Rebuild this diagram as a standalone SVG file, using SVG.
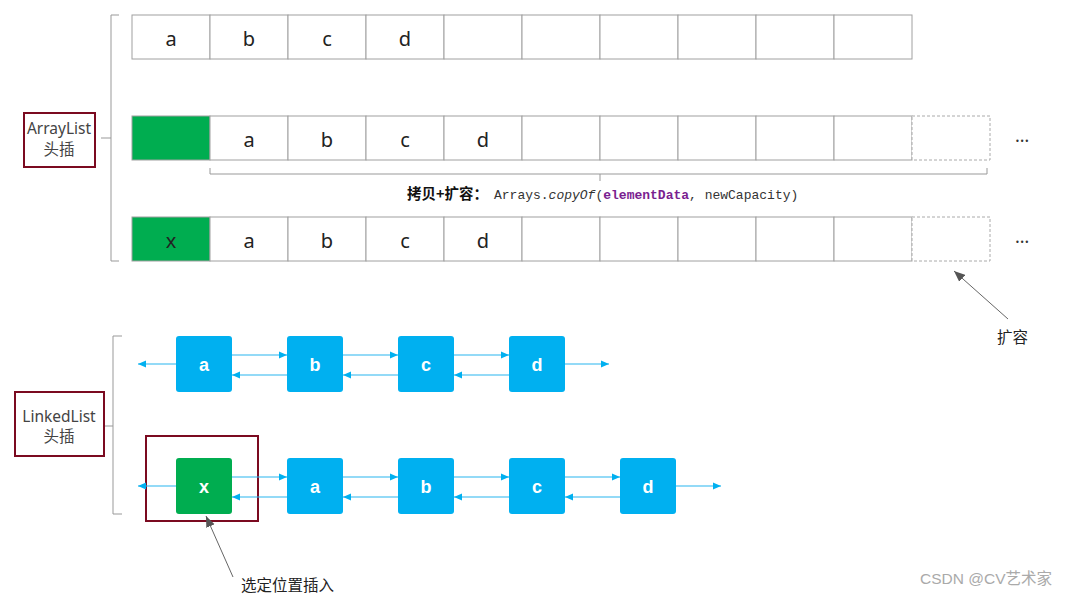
<svg xmlns="http://www.w3.org/2000/svg" width="1069" height="596" viewBox="0 0 1069 596">
<defs>
<style>
.cell{fill:#fff;stroke:#a0a0a0;stroke-width:1}
.green{fill:#00ad50;stroke:#a0a0a0;stroke-width:1}
.dash{fill:#fff;stroke:#aaa;stroke-width:1;stroke-dasharray:3,2}
.ct{font-family:"Noto Sans","Open Sans",sans-serif;font-size:20px;fill:#222;text-anchor:middle}
.lbl{font-family:"Noto Sans","Noto Sans CJK SC",sans-serif;font-size:15.5px;fill:#444;text-anchor:middle}
.redbox{fill:none;stroke:#7b0a20;stroke-width:2}
.brace{fill:none;stroke:#999;stroke-width:1}
.node{fill:#00b0f0}
.gnode{fill:#00ad50}
.nt{font-family:"Liberation Sans",Arial,sans-serif;font-weight:bold;font-size:18px;fill:#fff;text-anchor:middle}
.ln{stroke:#29b6ef;stroke-width:1.2;fill:none;marker-end:url(#ab)}
.gl{stroke:#666;stroke-width:1;fill:none;marker-end:url(#ag)}
.dots{font-family:"Noto Sans",sans-serif;font-size:18px;fill:#333}
.cn{font-family:"Noto Sans CJK SC",sans-serif;font-size:15.5px;fill:#222}
</style>
<marker id="ab" markerUnits="userSpaceOnUse" markerWidth="9" markerHeight="8" refX="8" refY="4" orient="auto"><path d="M0,0.5 L8,4 L0,7.5 z" fill="#00b0f0"/></marker>
<marker id="ag" markerUnits="userSpaceOnUse" markerWidth="12" markerHeight="10" refX="11" refY="5" orient="auto"><path d="M0,0.5 L11,5 L0,9.5 z" fill="#555"/></marker>
</defs>
<rect width="1069" height="596" fill="#fff"/>

<g id="arraylist-brace">
<path class="brace" d="M119,15 H111 V261 H119 M111,138 H101"/>
</g>
<g id="arraylist-label">
<rect class="redbox" x="24" y="113" width="71" height="54"/>
<text class="lbl" x="59" y="134">ArrayList</text>
<text class="lbl" x="59" y="155">头插</text>
</g>

<g id="array-row1">
<rect class="cell" x="132" y="15" width="78" height="44"/>
<rect class="cell" x="210" y="15" width="78" height="44"/>
<rect class="cell" x="288" y="15" width="78" height="44"/>
<rect class="cell" x="366" y="15" width="78" height="44"/>
<rect class="cell" x="444" y="15" width="78" height="44"/>
<rect class="cell" x="522" y="15" width="78" height="44"/>
<rect class="cell" x="600" y="15" width="78" height="44"/>
<rect class="cell" x="678" y="15" width="78" height="44"/>
<rect class="cell" x="756" y="15" width="78" height="44"/>
<rect class="cell" x="834" y="15" width="78" height="44"/>
<text class="ct" x="171" y="46">a</text>
<text class="ct" x="249" y="46">b</text>
<text class="ct" x="327" y="46">c</text>
<text class="ct" x="405" y="46">d</text>
</g>

<g id="array-row2">
<rect class="green" x="132" y="116" width="78" height="44"/>
<rect class="cell" x="210" y="116" width="78" height="44"/>
<rect class="cell" x="288" y="116" width="78" height="44"/>
<rect class="cell" x="366" y="116" width="78" height="44"/>
<rect class="cell" x="444" y="116" width="78" height="44"/>
<rect class="cell" x="522" y="116" width="78" height="44"/>
<rect class="cell" x="600" y="116" width="78" height="44"/>
<rect class="cell" x="678" y="116" width="78" height="44"/>
<rect class="cell" x="756" y="116" width="78" height="44"/>
<rect class="cell" x="834" y="116" width="78" height="44"/>
<rect class="dash" x="912" y="116" width="78" height="44"/>
<text class="ct" x="249" y="147">a</text>
<text class="ct" x="327" y="147">b</text>
<text class="ct" x="405" y="147">c</text>
<text class="ct" x="483" y="147">d</text>
<text class="dots" x="1015" y="142">…</text>
</g>

<g id="copy-bracket">
<path class="brace" d="M210,168 V174 H987 V168 M600,174 V181"/>
<text y="199" font-size="13" fill="#333"><tspan x="407" font-family="'Noto Sans CJK SC',sans-serif" font-weight="bold" font-size="14.5" fill="#111">拷贝+扩容：</tspan><tspan x="494" font-family="'Liberation Mono',monospace">Arrays.</tspan><tspan font-family="'Liberation Mono',monospace" font-style="italic">copyOf</tspan><tspan font-family="'Liberation Mono',monospace">(</tspan><tspan font-family="'Liberation Mono',monospace" font-weight="bold" fill="#7a1e90">elementData</tspan><tspan font-family="'Liberation Mono',monospace">, newCapacity)</tspan></text>
</g>

<g id="array-row3">
<rect class="green" x="132" y="217" width="78" height="44"/>
<rect class="cell" x="210" y="217" width="78" height="44"/>
<rect class="cell" x="288" y="217" width="78" height="44"/>
<rect class="cell" x="366" y="217" width="78" height="44"/>
<rect class="cell" x="444" y="217" width="78" height="44"/>
<rect class="cell" x="522" y="217" width="78" height="44"/>
<rect class="cell" x="600" y="217" width="78" height="44"/>
<rect class="cell" x="678" y="217" width="78" height="44"/>
<rect class="cell" x="756" y="217" width="78" height="44"/>
<rect class="cell" x="834" y="217" width="78" height="44"/>
<rect class="dash" x="912" y="217" width="78" height="44"/>
<text class="ct" x="171" y="248">x</text>
<text class="ct" x="249" y="248">a</text>
<text class="ct" x="327" y="248">b</text>
<text class="ct" x="405" y="248">c</text>
<text class="ct" x="483" y="248">d</text>
<text class="dots" x="1015" y="243">…</text>
</g>

<g id="expand-label">
<text class="cn" x="997" y="343">扩容</text>
</g>

<g id="linkedlist-brace">
<path class="brace" d="M122,336 H113 V514 H122 M113,426 H103"/>
</g>
<g id="linkedlist-label">
<rect class="redbox" x="15" y="392" width="89" height="64"/>
<text class="lbl" x="59" y="422">LinkedList</text>
<text class="lbl" x="59" y="442">头插</text>
</g>

<g id="ll1-a"><rect class="node" x="176" y="336" width="56" height="56" rx="3"/><text class="nt" x="204" y="371">a</text></g>
<g id="ll1-b"><rect class="node" x="287" y="336" width="56" height="56" rx="3"/><text class="nt" x="315" y="371">b</text></g>
<g id="ll1-c"><rect class="node" x="398" y="336" width="56" height="56" rx="3"/><text class="nt" x="426" y="371">c</text></g>
<g id="ll1-d"><rect class="node" x="509" y="336" width="56" height="56" rx="3"/><text class="nt" x="537" y="371">d</text></g>

<g id="select-box"><rect class="redbox" x="146" y="436" width="112" height="85"/></g>
<g id="ll2-x"><rect class="gnode" x="176" y="458" width="56" height="56" rx="3"/><text class="nt" x="204" y="493">x</text></g>
<g id="ll2-a"><rect class="node" x="287" y="458" width="56" height="56" rx="3"/><text class="nt" x="315" y="493">a</text></g>
<g id="ll2-b"><rect class="node" x="398" y="458" width="56" height="56" rx="3"/><text class="nt" x="426" y="493">b</text></g>
<g id="ll2-c"><rect class="node" x="509" y="458" width="56" height="56" rx="3"/><text class="nt" x="537" y="493">c</text></g>
<g id="ll2-d"><rect class="node" x="620" y="458" width="56" height="56" rx="3"/><text class="nt" x="648" y="493">d</text></g>

<g id="insert-label">
<text class="cn" x="241" y="591">选定位置插入</text>
</g>

<g id="connectors">
<path class="ln" d="M176,364 H138"/>
<path class="ln" d="M232,355 H287"/>
<path class="ln" d="M287,375 H232"/>
<path class="ln" d="M343,355 H398"/>
<path class="ln" d="M398,375 H343"/>
<path class="ln" d="M454,355 H509"/>
<path class="ln" d="M509,375 H454"/>
<path class="ln" d="M565,364 H609"/>
<path class="ln" d="M176,486 H138"/>
<path class="ln" d="M232,477 H287"/>
<path class="ln" d="M287,497 H232"/>
<path class="ln" d="M343,477 H398"/>
<path class="ln" d="M398,497 H343"/>
<path class="ln" d="M454,477 H509"/>
<path class="ln" d="M509,497 H454"/>
<path class="ln" d="M565,477 H620"/>
<path class="ln" d="M620,497 H565"/>
<path class="ln" d="M676,486 H721"/>
<path class="gl" d="M1008,319 L954,271"/>
<path class="gl" d="M233,577 L206,516"/>
</g>

<text x="920" y="584" font-family="'Liberation Sans','Noto Sans CJK SC',sans-serif" font-size="15.5" fill="#aaa">CSDN @CV艺术家</text>
</svg>
